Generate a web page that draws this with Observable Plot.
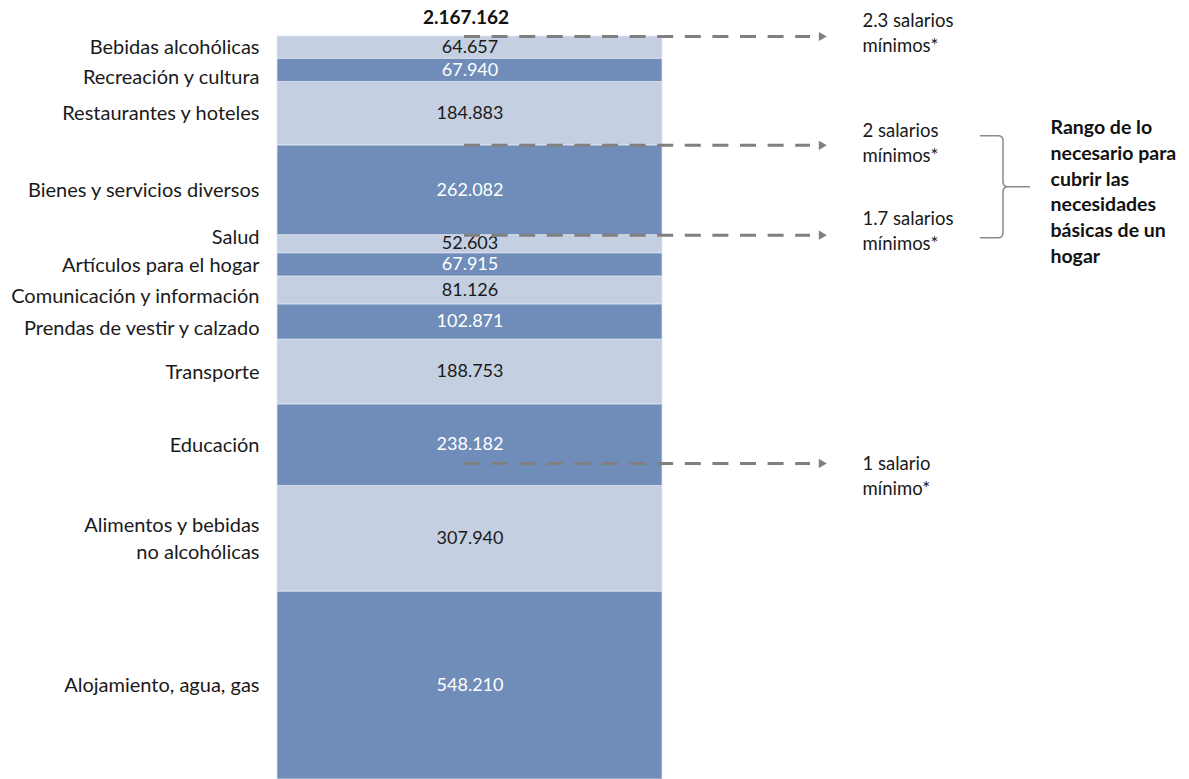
<!DOCTYPE html>
<html>
<head>
<meta charset="utf-8">
<script src="https://cdn.jsdelivr.net/npm/d3@7"></script>
<script src="https://cdn.jsdelivr.net/npm/@observablehq/plot@0.6"></script>
<style>
  html, body { margin: 0; padding: 0; background: #fff; overflow: hidden; }
  #chart svg { display: block; }
</style>
</head>
<body>
<div id="chart"></div>
<script>
// ---- Data (bottom of the stack first) ----
const categories = [
  "Alojamiento, agua, gas",
  "Alimentos y bebidas\nno alcohólicas",
  "Educación",
  "Transporte",
  "Prendas de vestir y calzado",
  "Comunicación y información",
  "Artículos para el hogar",
  "Salud",
  "Bienes y servicios diversos",
  "Restaurantes y hoteles",
  "Recreación y cultura",
  "Bebidas alcohólicas"
];
const values = [548210, 307940, 238182, 188753, 102871, 81126, 67915, 52603, 262082, 184883, 67940, 64657];
const total = 2167162;
const salarioLabels = ["2.3 salarios\nmínimos*", "2 salarios\nmínimos*", "1.7 salarios\nmínimos*", "1 salario\nmínimo*"];
const salarioLevels = [2167162, 1849682, 1587600, 922000];
const rangoText = "Rango de lo\nnecesario para\ncubrir las\nnecesidades\nbásicas de un\nhogar";

// ---- Layout (pixels) ----
const W = 1189, H = 779;
const BAR = [277, 662];
const BAR_C = (BAR[0] + BAR[1]) / 2;
const LABEL_RIGHT = 259;
const ARROW_START = 464, ARROW_END = 810, ARROW_TIP_C = 821;
const SAL_TEXT_X = 862;
const BRACE_X0 = 980, BRACE_X1 = 1003, BRACE_XT = 1030;
const RANGO_X = 1050;
const labelNudge = {
  "Recreación y cultura": 7,
  "Salud": -7,
  "Comunicación y información": 6,
  "Prendas de vestir y calzado": 6
};
const salarioDy = [-4, -3, -5, 12];
const DARK = "#6F8DB8", LIGHT = "#C5CFE2", GREY = "#808080";

const fmt = d3.formatLocale({decimal: ",", thousands: ".", grouping: [3], currency: ["$", ""]}).format(",d");

let acc = 0;
const rows = categories.map((c, i) => {
  const y1 = acc; acc += values[i];
  return {category: c, value: values[i], y1, y2: acc, mid: (y1 + acc) / 2, dark: i % 2 === 0};
});
const band = () => "gasto";

const marks = [
  Plot.barY(rows, {
    x: band, y1: "y1", y2: "y2",
    fill: d => d.dark ? DARK : LIGHT,
    stroke: "#dfe5ef", strokeWidth: 1, strokeOpacity: 0.8
  }),
  Plot.text(rows, {
    x: band, y: "mid", text: d => fmt(d.value),
    fill: d => d.dark ? "#ffffff" : "#1a1a1a",
    fontSize: 18, dy: -0.5
  }),
  ...rows.map(r => Plot.text([r], {
    x: band, y: "mid", text: "category",
    dx: LABEL_RIGHT - BAR_C, dy: (labelNudge[r.category] || 0) - 2,
    textAnchor: "end", fill: "#1a1a1a", fontSize: 20, lineHeight: 1.35
  })),
  Plot.text([total], {
    x: band, y: d => d, text: d => fmt(d), dy: -19, dx: -4,
    fontWeight: "bold", fontSize: 19, fill: "#111"
  }),
  Plot.ruleY(salarioLevels, {
    y: d => d, insetLeft: ARROW_START, insetRight: W - ARROW_END,
    stroke: GREY, strokeWidth: 3, strokeDasharray: "16,11.6"
  }),
  Plot.dot(salarioLevels, {
    x: band, y: d => d, dx: ARROW_TIP_C - BAR_C,
    symbol: "triangle2", rotate: 90, r: 4.4, fill: GREY, stroke: "none"
  }),
  ...salarioLevels.map((v, i) => Plot.text([v], {
    x: band, y: d => d, text: () => salarioLabels[i],
    dx: SAL_TEXT_X - BAR_C, dy: salarioDy[i] - 1,
    textAnchor: "start", fill: "#1a1a1a", fontSize: 18.5, lineHeight: 1.38
  })),
  (index, scales) => {
    const y = scales.y;
    const top = y(salarioLevels[1]) - 9, bot = y(salarioLevels[2]) + 3, mid = (top + bot) / 2, r = 5;
    const x0 = BRACE_X0, x1 = BRACE_X1, xt = BRACE_XT;
    const p = `M${x0},${top} H${x1 - r} Q${x1},${top} ${x1},${top + r} V${mid - r} Q${x1},${mid} ${x1 + r},${mid} H${xt}` +
              ` M${x1 + r},${mid} Q${x1},${mid} ${x1},${mid + r} V${bot - r} Q${x1},${bot} ${x1 - r},${bot} H${x0}`;
    return d3.create("svg:path").attr("d", p).attr("fill", "none")
      .attr("stroke", "#8a8a8a").attr("stroke-width", 1.5).node();
  },
  Plot.text([rangoText], {
    x: band, y: () => (salarioLevels[1] + salarioLevels[2]) / 2, text: d => d,
    dx: RANGO_X - BAR_C, textAnchor: "start", lineAnchor: "middle",
    fontWeight: "bold", fontSize: 19.5, lineHeight: 1.32, fill: "#111"
  })
];

const chart = Plot.plot({
  width: W, height: H,
  marginTop: 36, marginBottom: 0, marginLeft: 0, marginRight: 0,
  x: {type: "band", domain: ["gasto"], range: BAR, padding: 0, axis: null},
  y: {domain: [0, total], axis: null},
  style: {fontFamily: "Lato, 'Open Sans', sans-serif", background: "#ffffff", overflow: "visible"},
  marks
});
document.getElementById("chart").appendChild(chart);
</script>
</body>
</html>
